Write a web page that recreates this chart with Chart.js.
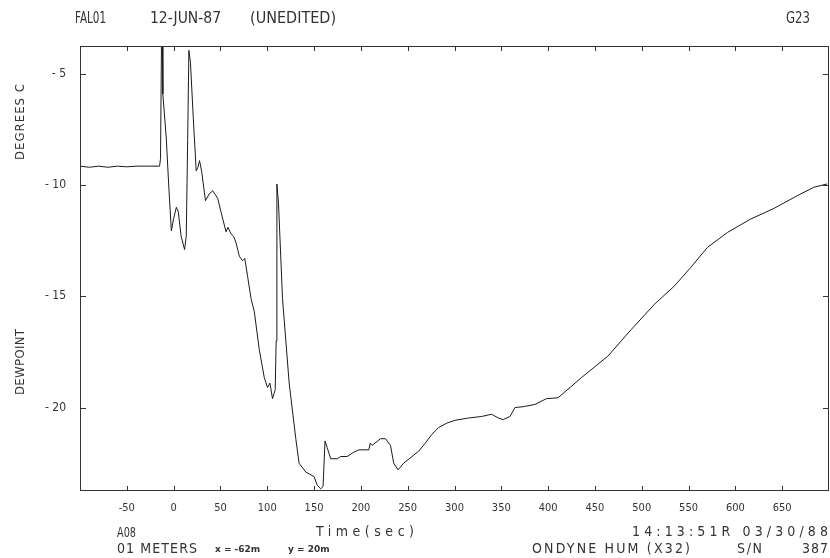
<!DOCTYPE html>
<html>
<head>
<meta charset="utf-8">
<script src="https://cdn.jsdelivr.net/npm/chart.js@4.4.0/dist/chart.umd.min.js"></script>
<style>
  html, body { margin: 0; padding: 0; background: #fff; }
  #wrap { width: 830px; height: 558px; }
</style>
</head>
<body>
<div id="wrap"><canvas id="dewChart" width="830" height="558"></canvas></div>
<script>
// time (sec) and dewpoint (deg C)
const timeSec = [
  -100, -90, -80, -70, -60, -50, -40, -30, -15, -14,
  -13, -12, -11.5, -7.8, -5, -2.4, 0, 2.9, 5, 8,
  11.7, 13.5, 15, 16.3, 18, 21, 24.1, 26, 27.7, 30,
  34, 38, 41.8, 47.1, 50.7, 56, 58, 61.4, 64, 66.7,
  70.2, 73.7, 76, 79, 82.7, 86.2, 91.5, 96.8, 100.3, 102.9,
  105.6, 108.5, 109.5, 110.3, 112, 116.3, 123.4, 130.5, 134, 141.2,
  150, 153.5, 157.1, 159.6, 161.7, 164, 167.8, 174.8, 178.4, 185.4,
  192.6, 197.9, 208.5, 210, 212, 221, 226.3, 231.6, 235.1, 239.7,
  245.7, 254.6, 261.7, 268.8, 275.9, 283, 291.8, 300.7, 314.9, 329,
  339.7, 346.8, 352.1, 359.3, 364.6, 373.4, 385.9, 398.2, 410.6, 435.4,
  463.8, 488.6, 513.5, 534.8, 552.4, 570.2, 591.5, 616.3, 641.2, 666,
  683.7, 698
];
const dewpoint = [
  -9.15, -9.2, -9.15, -9.2, -9.15, -9.18, -9.15, -9.15, -9.15, -8.8,
  -3.75, -3.75, -5.9, -7.93, -10.2, -12.06, -11.5, -11.0, -11.2, -12.3,
  -12.9, -12.3, -8.0, -3.95, -4.5, -7.0, -9.36, -9.2, -8.9, -9.4,
  -10.7, -10.4, -10.26, -10.6, -11.23, -12.1, -11.9, -12.2, -12.3, -12.6,
  -13.2, -13.4, -13.3, -14.1, -15.1, -15.7, -17.4, -18.65, -19.1, -18.9,
  -19.6, -19.2, -17.0, -9.95, -10.8, -15.1, -18.9, -21.4, -22.5, -22.9,
  -23.1, -23.5, -23.65, -23.55, -21.5, -21.8, -22.3, -22.3, -22.2, -22.2,
  -22.0, -21.9, -21.9, -21.6, -21.7, -21.4, -21.4, -21.7, -22.5, -22.8,
  -22.5, -22.2, -21.96, -21.6, -21.2, -20.9, -20.7, -20.57, -20.47, -20.4,
  -20.3, -20.47, -20.54, -20.4, -20.0, -19.96, -19.86, -19.6, -19.56, -18.66,
  -17.69, -16.5, -15.36, -14.54, -13.7, -12.8, -12.13, -11.53, -11.05, -10.48,
  -10.1, -9.95
];
const xTickValues = [-50, 0, 50, 100, 150, 200, 250, 300, 350, 400, 450, 500, 550, 600, 650];
const yTickValues = [-20, -15, -10, -5];

const FONT = '"Liberation Sans Narrow", "DejaVu Sans Condensed", "Liberation Sans", sans-serif';
const INK = '#333';

// plotter lettering: stretch with letter spacing, or squeeze if too wide
function drawSpread(ctx, text, x, y, width) {
  ctx.letterSpacing = '0px';
  ctx.textAlign = 'left';
  const w = ctx.measureText(text).width;
  if (w >= width || text.length < 2) {
    ctx.save();
    ctx.translate(x, y);
    ctx.scale(width / w, 1);
    ctx.fillText(text, 0, 0);
    ctx.restore();
    return;
  }
  ctx.letterSpacing = ((width - w) / (text.length - 1)) + 'px';
  ctx.fillText(text, x, y);
  ctx.letterSpacing = '0px';
}

const framePlugin = {
  id: 'frame',
  afterDraw(chart) {
    const ctx = chart.ctx;
    const a = chart.chartArea;
    const xs = chart.scales.x, ys = chart.scales.y;
    ctx.save();
    ctx.strokeStyle = INK;
    ctx.lineWidth = 1;
    ctx.strokeRect(a.left + 0.5, a.top + 0.5, a.right - a.left - 1, a.bottom - a.top - 1);
    ctx.beginPath();
    xTickValues.forEach(v => {
      const px = Math.round(xs.getPixelForValue(v)) + 0.5;
      ctx.moveTo(px, a.bottom); ctx.lineTo(px, a.bottom - 5);
      ctx.moveTo(px, a.top); ctx.lineTo(px, a.top + 5);
    });
    yTickValues.forEach(v => {
      const py = Math.round(ys.getPixelForValue(v)) + 0.5;
      ctx.moveTo(a.left, py); ctx.lineTo(a.left + 6, py);
      ctx.moveTo(a.right, py); ctx.lineTo(a.right - 6, py);
    });
    ctx.stroke();

    ctx.fillStyle = INK;
    ctx.textBaseline = 'middle';
    // header
    ctx.font = '16px ' + FONT;
    drawSpread(ctx, 'FAL01', 75, 19, 31);
    drawSpread(ctx, '12-JUN-87', 150, 19, 71);
    drawSpread(ctx, '(UNEDITED)', 250, 19, 86);
    drawSpread(ctx, 'G23', 786, 19, 24);

    // footer
    ctx.font = '14px ' + FONT;
    drawSpread(ctx, 'A08', 117, 533, 19);
    drawSpread(ctx, 'Time(sec)', 316, 532, 98);
    drawSpread(ctx, '14:13:51R 03/30/88', 632, 532, 196);
    drawSpread(ctx, '01 METERS', 117, 549, 80);
    drawSpread(ctx, 'ONDYNE HUM (X32)', 532, 549, 158);
    drawSpread(ctx, 'S/N', 737, 549, 25);
    drawSpread(ctx, '387', 802, 549, 26);
    ctx.font = 'bold 9px "DejaVu Sans", sans-serif';
    ctx.textAlign = 'left';
    ctx.fillText('x = -62m', 215, 550);
    ctx.fillText('y = 20m', 288, 550);

    // vertical axis titles
    ctx.font = '13px ' + FONT;
    ctx.save();
    ctx.translate(21, 122);
    ctx.rotate(-Math.PI / 2);
    drawSpread(ctx, 'DEGREES C', -38, 0, 76);
    ctx.restore();
    ctx.save();
    ctx.translate(21, 362);
    ctx.rotate(-Math.PI / 2);
    drawSpread(ctx, 'DEWPOINT', -33, 0, 66);
    ctx.restore();
    ctx.restore();
  }
};

new Chart(document.getElementById('dewChart'), {
  type: 'line',
  data: {
    datasets: [{
      data: timeSec.map((t, i) => ({ x: t, y: dewpoint[i] })),
      borderColor: '#1a1a1a',
      borderWidth: 1,
      pointRadius: 0,
      tension: 0,
      fill: false
    }]
  },
  options: {
    responsive: false,
    animation: false,
    events: [],
    layout: { padding: { top: 46, right: 1, left: 0, bottom: 0 } },
    plugins: { legend: { display: false }, tooltip: { enabled: false } },
    scales: {
      x: {
        type: 'linear',
        min: -100,
        max: 700,
        afterBuildTicks: s => { s.ticks = xTickValues.map(v => ({ value: v })); },
        afterFit: s => { s.height = 67; },
        grid: { display: false, drawTicks: false },
        border: { display: false },
        ticks: {
          autoSkip: false, maxRotation: 0, padding: 11,
          color: INK, font: { family: FONT, size: 11 }
        }
      },
      y: {
        min: -23.75,
        max: -3.75,
        afterBuildTicks: s => { s.ticks = yTickValues.map(v => ({ value: v })); },
        afterFit: s => { s.width = 80; },
        grid: { display: false, drawTicks: false },
        border: { display: false },
        ticks: {
          padding: 14,
          color: INK, font: { family: FONT, size: 12 },
          callback: v => String(v).replace('-', '- ')
        }
      }
    }
  },
  plugins: [framePlugin]
});
</script>
</body>
</html>
